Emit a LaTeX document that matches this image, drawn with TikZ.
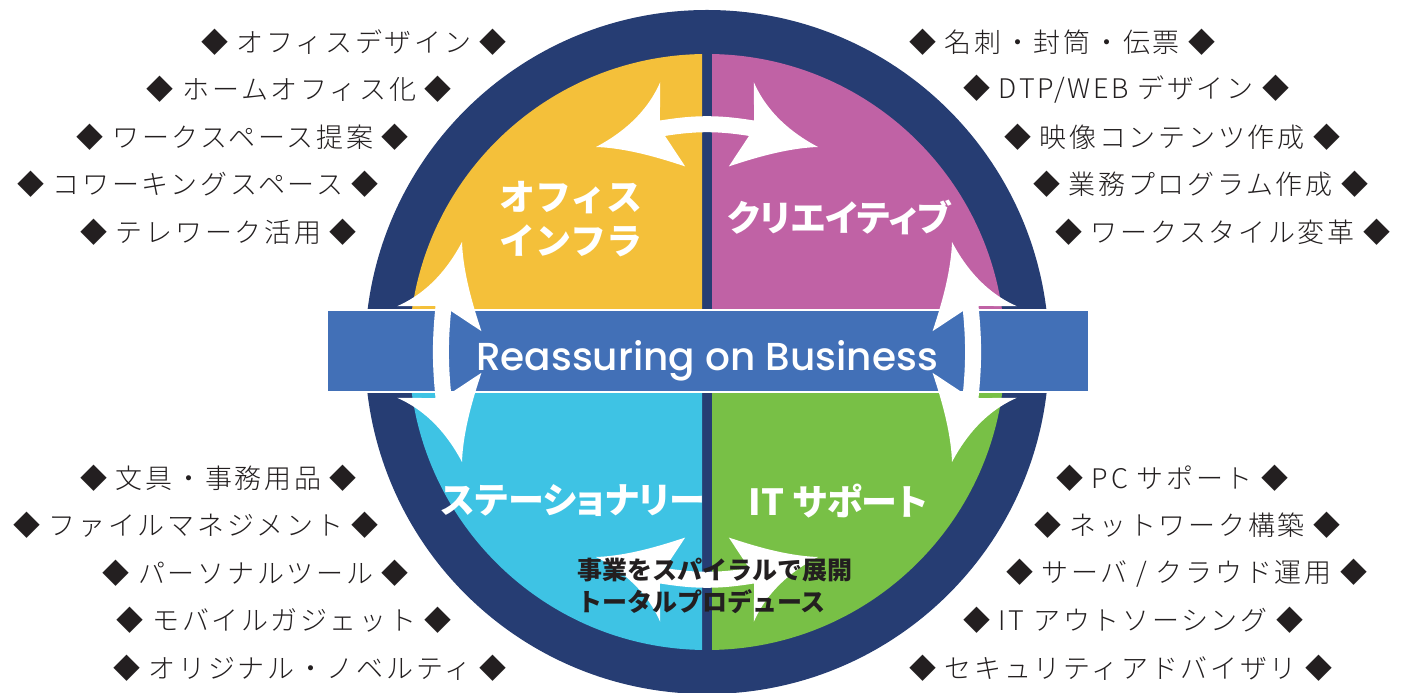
\documentclass[tikz,border=0pt]{standalone}
\usepackage{fontspec}
\setmainfont{Noto Sans CJK JP}
\newfontfamily\jpitem[LetterSpace=10]{Noto Sans CJK JP Light}
\newfontfamily\jplabel[RawFeature=+palt]{Noto Sans CJK JP}
\newfontfamily\popfont{Poppins Medium}
\definecolor{ringnavy}{HTML}{263D73}
\definecolor{officeyellow}{HTML}{F4C03A}
\definecolor{creativepink}{HTML}{C062A5}
\definecolor{stationblue}{HTML}{3EC3E4}
\definecolor{supportgreen}{HTML}{78C046}
\definecolor{bandblue}{HTML}{4270B7}
\definecolor{inkblack}{HTML}{231F20}
\tikzset{
  item/.style={font=\jpitem\fontsize{27bp}{30bp}\selectfont, text=inkblack, inner sep=0pt},
  quadlabel/.style={font=\jplabel\bfseries\fontsize{36bp}{44bp}\selectfont, text=white, inner sep=0pt, align=left},
  midtext/.style={font=\bfseries\fontsize{25bp}{32bp}\selectfont, text=inkblack, inner sep=0pt, align=left},
  band/.style={fill=bandblue, draw=white, line width=1.2bp, minimum width=762bp, minimum height=82bp, inner sep=0pt},
  shaft/.style={white, line width=16bp},
  swoosh/.pic={
    \fill[white] (0,0) .. controls (-20,-4) and (-55,-14) .. (-80,-44) -- (-69,-8)
      -- (-69,8) -- (-80,44) .. controls (-60,30) and (-30,10) .. (0,0) -- cycle;
  }
}
\begin{document}
\begin{tikzpicture}[x=1bp,y=1bp]
\useasboundingbox (0,0) rectangle (1407,693);
\coordinate (hub) at (707,341);

% ring and quarters
\fill[ringnavy] (hub) circle (342);
\foreach \col/\xa/\ya/\xb/\yb in {officeyellow/0/341/702/693, creativepink/712/341/1407/693,
                                  stationblue/0/0/702/341, supportgreen/712/0/1407/341}
{
  \begin{scope}
    \clip (\xa,\ya) rectangle (\xb,\yb);
    \fill[\col] (hub) circle (298);
  \end{scope}
}

% band across the middle
\node[band] (band) at (708,342) {};

% arrows round the circle
\coordinate (topL) at (655,563.5);
\coordinate (topR) at (759,563.5);
\coordinate (botL) at (655,118.5);
\coordinate (botR) at (759,118.5);
\coordinate (rgtT) at (970,391.5);
\coordinate (rgtB) at (970,290.5);
\coordinate (lftT) at (444,391.5);
\coordinate (lftB) at (444,290.5);
\draw[shaft] (topL) to[bend left=10] (topR);
\draw[shaft] (botR) to[bend left=10] (botL);
\draw[shaft] (rgtT) to[bend left=6] (rgtB);
\draw[shaft] (lftB) to[bend left=6] (lftT);
\foreach \x/\y/\a/\f in {596/546/196.5/1, 818/546/-16.5/-1, 596/136/163.5/-1, 818/136/16.5/1,
                         952/451/106.5/1, 952/231/253.5/-1, 462/451/73.5/-1, 462/231/-73.5/1}
  \pic[rotate=\a, yscale=\f] at (\x,\y) {swoosh};

% labels
\node[font=\popfont\fontsize{39bp}{48bp}\selectfont, text=white, anchor=base, inner sep=0pt] (motto) at (707,322) {Reassuring on Business};
\node[quadlabel, font=\bfseries\fontsize{36bp}{44bp}\selectfont, anchor=west] (office) at (499,474) {オフィス\\インフラ};
\node[quadlabel] (creative) at (839,476) {クリエイティブ};
\node[quadlabel] (station) at (573,192) {ステーショナリー};
\node[quadlabel] (support) at (838,192) {IT サポート};
\node[midtext, anchor=west] (spiral) at (577,107) {事業をスパイラルで展開\\トータルプロデュース};

% service lists
\foreach \x/\t [count=\i from 0] in {507/オフィスデザイン, 452/ホームオフィス化, 409/ワークスペース提案,
                                     379/コワーキングスペース, 357/テレワーク活用}
  \node[item, anchor=east] (ul\i) at (\x,{651-47.5*\i}) {◆ \t\ ◆};
\foreach \x/\t [count=\i from 0] in {909/名刺・封筒・伝票, 963/{DTP/WEB デザイン}, 1004/映像コンテンツ作成,
                                     1033/業務プログラム作成, 1055/ワークスタイル変革}
  \node[item, anchor=west] (ur\i) at (\x,{651-47.5*\i}) {◆ \t\ ◆};
\foreach \x/\t [count=\i from 0] in {357/文具・事務用品, 379/ファイルマネジメント, 409/パーソナルツール,
                                     452/モバイルガジェット, 507/オリジナル・ノベルティ}
  \node[item, anchor=east] (ll\i) at (\x,{215-47.5*\i}) {◆ \t\ ◆};
\foreach \x/\t [count=\i from 0] in {1056/PC サポート, 1034/ネットワーク構築, 1006/{サーバ / クラウド運用},
                                     963/IT アウトソーシング, 909/セキュリティアドバイザリ}
  \node[item, anchor=west] (lr\i) at (\x,{215-47.5*\i}) {◆ \t\ ◆};
\end{tikzpicture}
\end{document}
